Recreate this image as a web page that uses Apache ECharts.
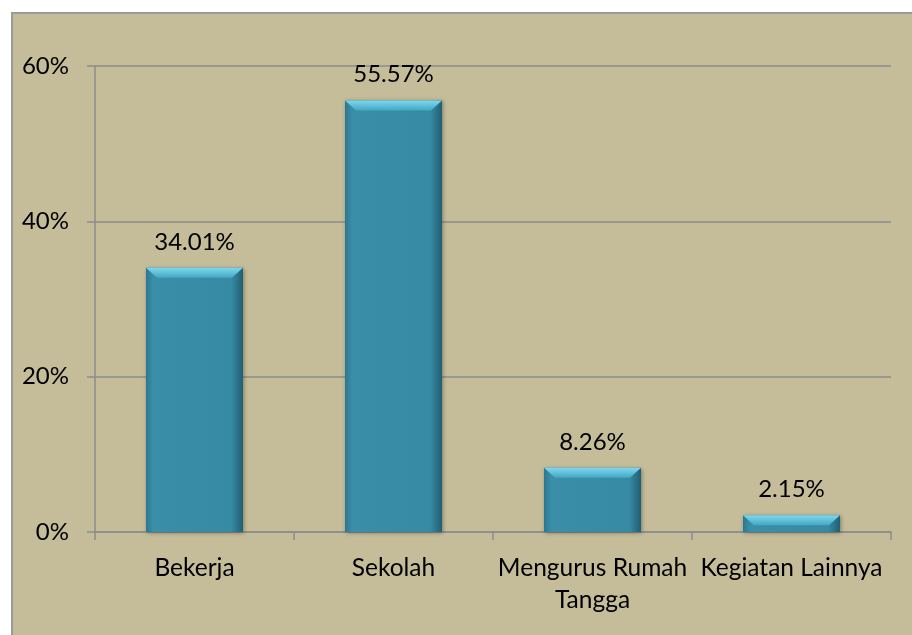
<!DOCTYPE html>
<html>
<head>
<meta charset="utf-8">
<script src="https://cdn.jsdelivr.net/npm/echarts@6/dist/echarts.min.js"></script>
<style>
  html, body { margin: 0; padding: 0; background: #fff; }
  #chart { width: 912px; height: 635px; }
</style>
</head>
<body>
<div id="chart"></div>
<script>
const categories = ["Bekerja", "Sekolah", "Mengurus Rumah\nTangga", "Kegiatan Lainnya"];
const values = [34.01, 55.57, 8.26, 2.15];
const yTicks = [0, 20, 40, 60];

const fontFamily = "Lato, 'Noto Sans', sans-serif";
const gray = "#8c8c8c";

const chart = echarts.init(document.getElementById("chart"));

chart.setOption({
  backgroundColor: "#fff",
  animation: false,
  graphic: [
    {
      type: "rect",
      z: -10,
      shape: { x: 12, y: 13, width: 930, height: 640 },
      style: { fill: "#c5bd99", stroke: "#9a9a9a", lineWidth: 2 },
    },
  ],
  grid: {
    left: 95,
    right: 21,
    top: 66,
    bottom: 103,
  },
  xAxis: {
    type: "category",
    data: categories,
    axisLine: { lineStyle: { color: gray, width: 1.5 } },
    axisTick: { show: true, length: 8, lineStyle: { color: gray, width: 1.5 } },
    axisLabel: {
      color: "#000",
      fontFamily,
      fontSize: 24.5,
      lineHeight: 32,
      margin: 20,
      interval: 0,
    },
  },
  yAxis: {
    type: "value",
    min: yTicks[0],
    max: yTicks[yTicks.length - 1],
    interval: 20,
    axisLine: { show: true, lineStyle: { color: gray, width: 1.5 } },
    axisTick: { show: true, length: 8, lineStyle: { color: gray, width: 1.5 } },
    splitLine: { lineStyle: { color: gray, width: 1.5 } },
    axisLabel: {
      formatter: "{value}%",
      color: "#000",
      fontFamily,
      fontSize: 24,
      margin: 26,
    },
  },
  series: [
    {
      type: "bar",
      data: values,
      barWidth: 97,
      itemStyle: {
        color: new echarts.graphic.LinearGradient(0, 0, 1, 0, [
          { offset: 0, color: "#2c7690" },
          { offset: 0.07, color: "#3a8ea8" },
          { offset: 0.88, color: "#378aa3" },
          { offset: 1, color: "#205f74" },
        ]),
        shadowColor: "rgba(0,0,0,0.35)",
        shadowBlur: 4,
        shadowOffsetX: 1,
        shadowOffsetY: 1,
      },
      label: {
        show: true,
        position: "top",
        distance: 14,
        formatter: (p) => p.value.toFixed(2) + "%",
        color: "#000",
        fontFamily,
        fontSize: 24,
      },
      z: 2,
    },
    {
      type: "pictorialBar",
      data: values,
      symbol: "path://M0,0 L97,0 L86,11 L11,11 Z",
      symbolSize: [97, 10],
      symbolPosition: "end",
      symbolKeepAspect: false,
      silent: true,
      itemStyle: {
        color: new echarts.graphic.LinearGradient(0, 0, 0, 1, [
          { offset: 0, color: "#7dd8f0" },
          { offset: 1, color: "#45a7c3" },
        ]),
      },
      z: 3,
    },
  ],
});
</script>
</body>
</html>
